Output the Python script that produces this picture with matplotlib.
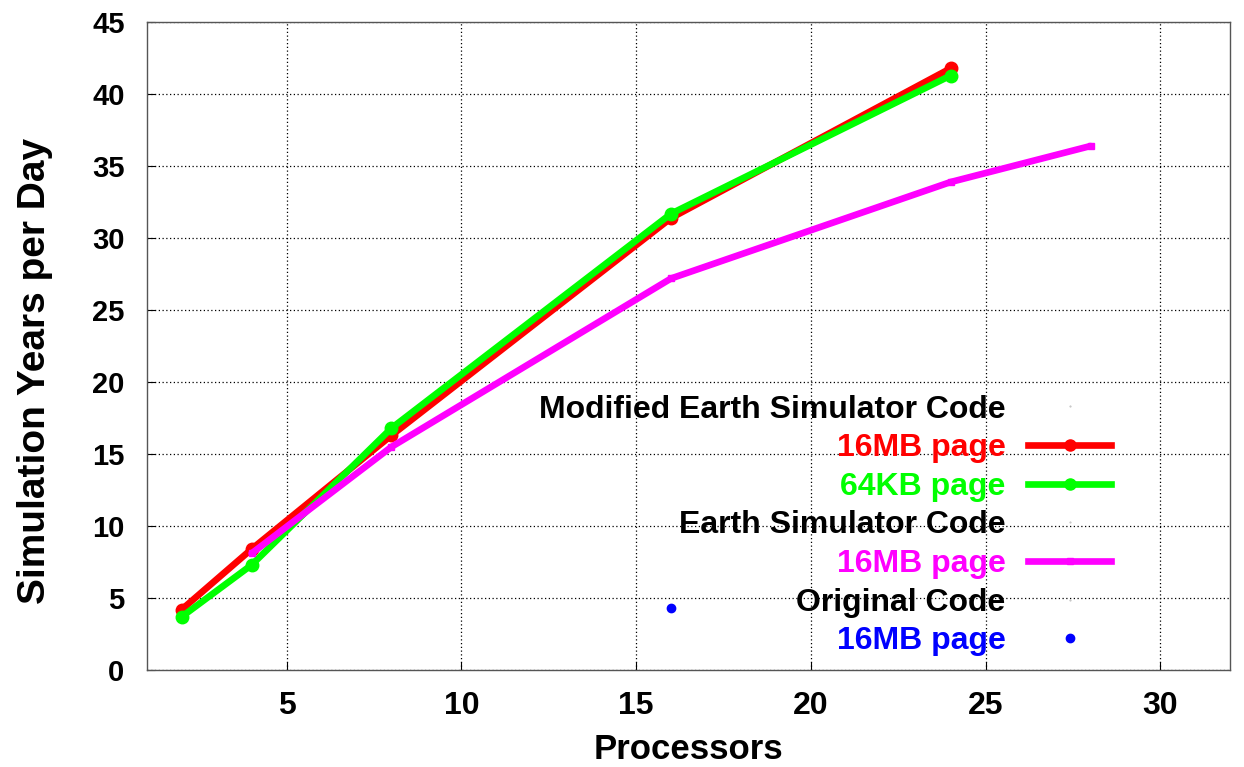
import matplotlib
matplotlib.use("Agg")
import matplotlib.pyplot as plt
from matplotlib.lines import Line2D

plt.rcParams['font.family'] = ['Liberation Sans', 'DejaVu Sans']
plt.rcParams['font.weight'] = 'bold'

procs_mod = [2, 4, 8, 16, 24]
mod_16mb = [4.2, 8.4, 16.3, 31.4, 41.8]
mod_64kb = [3.7, 7.3, 16.8, 31.7, 41.3]
procs_es = [4, 8, 16, 24, 28]
es_16mb = [8.1, 15.5, 27.2, 33.9, 36.4]
procs_orig = [16]
orig_16mb = [4.3]

xticks = [5, 10, 15, 20, 25, 30]
yticks = [0, 5, 10, 15, 20, 25, 30, 35, 40, 45]

RED = '#ff0000'
GREEN = '#00ff00'
MAGENTA = '#ff00ff'
BLUE = '#0000ff'

fig = plt.figure(figsize=(12.44, 7.67), dpi=100)
ax = fig.add_axes([0.118, 0.1265, 0.871, 0.8445])

ax.plot(procs_mod, mod_16mb, color=RED, lw=4.8, marker='o', ms=9, solid_capstyle='round', zorder=3)
ax.plot(procs_mod, mod_64kb, color=GREEN, lw=4.8, marker='o', ms=9, solid_capstyle='round', zorder=4)
ax.plot(procs_es, es_16mb, color=MAGENTA, lw=4.8, marker='s', ms=5, solid_capstyle='round', zorder=5)
ax.plot(procs_orig, orig_16mb, color=BLUE, lw=0, marker='o', ms=6, zorder=6)

ax.set_xlim(1, 32)
ax.set_ylim(0, 45)
ax.set_xticks(xticks)
ax.set_yticks(yticks)
ax.tick_params(direction='in', length=6, width=0.8, colors='black')
ax.tick_params(axis='y', pad=16, labelsize=21)
ax.tick_params(axis='x', pad=15, labelsize=23)
ax.grid(True, color='black', linestyle=(0, (1, 2)), lw=0.9)
for s in ax.spines.values():
    s.set_color('#555555')
    s.set_linewidth(1.0)

ax.set_xlabel('Processors', fontsize=25, fontweight='bold', labelpad=9)
fig.text(35 / 1244, 1 - 371 / 767, 'Simulation Years per Day', rotation=90,
         ha='center', va='center', fontsize=28, fontweight='bold')

blank = Line2D([], [], lw=0, marker='.', ms=1, color='#bbbbbb')
handles = [blank,
           Line2D([], [], color=RED, lw=4.8, marker='o', ms=8),
           Line2D([], [], color=GREEN, lw=4.8, marker='o', ms=8),
           blank,
           Line2D([], [], color=MAGENTA, lw=4.8, marker='s', ms=5),
           blank,
           Line2D([], [], color=BLUE, lw=0, marker='o', ms=6)]
labels = ['Modified Earth Simulator Code', '16MB page', '64KB page',
          'Earth Simulator Code', '16MB page', 'Original Code', '16MB page']
colors = ['black', RED, GREEN, 'black', MAGENTA, 'black', BLUE]
leg = ax.legend(handles, labels, loc='lower right', bbox_to_anchor=(0.89, 0.021),
                frameon=False, markerfirst=False, handlelength=2.6,
                handletextpad=0.7, labelspacing=0.27, borderpad=0.0, borderaxespad=0.0,
                prop={'weight': 'bold', 'size': 23})
for t, c in zip(leg.get_texts(), colors):
    t.set_color(c)
leg.set_zorder(10)

fig.savefig('out.png', dpi=100)
